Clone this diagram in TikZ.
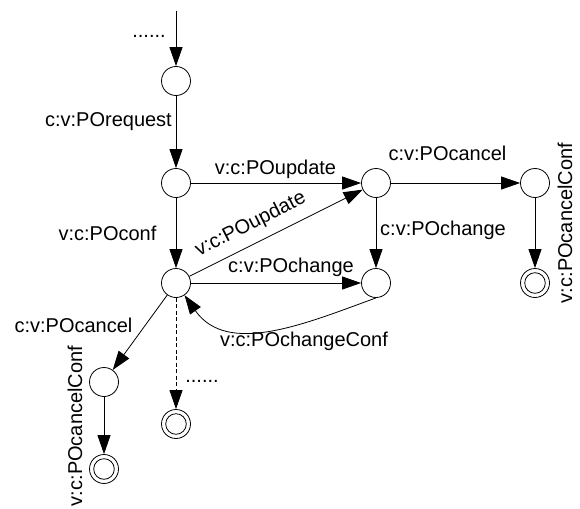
\documentclass[tikz,border=0pt]{standalone}
\usepackage{fontspec}
\setmainfont{Liberation Sans}
\usetikzlibrary{arrows.meta}
\begin{document}
\begin{tikzpicture}[x=1pt,y=1pt,
  state/.style={circle,draw,line width=0.8pt,minimum size=29pt,inner sep=0pt},
  final/.style={state,path picture={\draw[line width=0.8pt] (path picture bounding box.center) circle (10.3pt);}},
  arr/.style={line width=0.8pt,-{Triangle[length=19pt,width=13pt]}},
  lbl/.style={font=\fontsize{20}{24}\selectfont,inner sep=0pt,anchor=base}]
\useasboundingbox (0,0) rectangle (580,-508);

% states
\coordinate (start) at (176,-11);
\node[state] (n1) at (176,-81) {};
\node[state] (n2) at (176,-183) {};
\node[state] (n3) at (176,-283) {};
\node[state] (n4) at (376,-183) {};
\node[state] (n5) at (376,-283) {};
\node[state] (n6) at (535,-183) {};
\node[final] (n7) at (535,-283) {};
\node[state] (n8) at (104,-382) {};
\node[final] (n9) at (104,-469) {};
\node[final] (n10) at (176,-424) {};

% transitions
\draw[arr] (start) -- (n1);
\draw[arr] (n1) -- (n2);
\draw[arr] (n2) -- (n3);
\draw[arr] (n2) -- (n4);
\draw[arr] (n3) -- (n4);
\draw[arr] (n3) -- (n5);
\draw[arr] (n4) -- (n5);
\draw[arr] (n4) -- (n6);
\draw[arr] (n6) -- (n7);
\draw[arr] (n5.south) to[out=200,in=-55] (n3.-55);
\draw[arr] (n3) -- (n8);
\draw[arr] (n8) -- (n9);
\draw[arr,dash pattern=on 4pt off 2.5pt] (n3) -- (n10);

% labels
\node[lbl] (d1) at (149,-37.5) {......};
\node[lbl,anchor=base east] (t1) at (172,-126) {c:v:POrequest};
\node[lbl] (t2) at (275.5,-174) {v:c:POupdate};
\node[lbl] (t3) at (107.5,-240) {v:c:POconf};
\node[lbl,rotate=27] (t4) at (253,-229) {v:c:POupdate};
\node[lbl] (t5) at (291,-272) {c:v:POchange};
\node[lbl] (t6) at (447.5,-160.5) {c:v:POcancel};
\node[lbl] (t7) at (443,-235) {c:v:POchange};
\node[lbl,rotate=90] (t8) at (572,-223) {v:c:POcancelConf};
\node[lbl] (t9) at (304,-346) {v:c:POchangeConf};
\node[lbl] (t10) at (73.5,-332) {c:v:POcancel};
\node[lbl,rotate=90] (t11) at (82,-426) {v:c:POcancelConf};
\node[lbl] (d2) at (202,-382) {......};
\end{tikzpicture}
\end{document}
